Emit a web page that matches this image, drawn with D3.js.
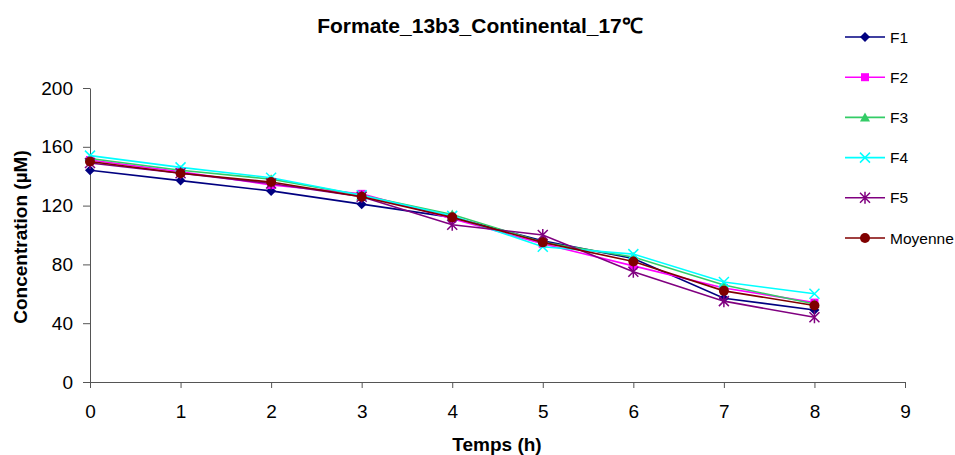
<!DOCTYPE html>
<html><head><meta charset="utf-8">
<script src="https://cdn.jsdelivr.net/npm/d3@7"></script>
<style>body{margin:0;background:#fff}svg{font-family:"Liberation Sans",Arial,sans-serif}</style>
</head><body>
<script>
const hours = [0,1,2,3,4,5,6,7,8];
const F1 = [144,137,130,121,112,96,84,57,49];
const F2 = [151,143,134,128,111,94,79,64,54];
const F3 = [152,144,138,127,114,95,85,66,53];
const F4 = [154,146,139,127,113,92,87,68,60];
const F5 = [149,142,135,126,107,100,75,55,44];
const Moyenne = [150,142,136,126,112,95,82,62,52];
const seriesNames = ["F1","F2","F3","F4","F5","Moyenne"];
const seriesValues = [F1,F2,F3,F4,F5,Moyenne];
const colors = ["#000080","#FF00FF","#33CC66","#00FFFF","#800080","#800000"];
const xTicks = [0,1,2,3,4,5,6,7,8,9];
const yTicks = [0,40,80,120,160,200];

const W=955,H=455;
const svg=d3.select("body").append("svg").attr("width",W).attr("height",H);
const x=d3.scaleLinear().domain([0,9]).range([90,905]);
const y=d3.scaleLinear().domain([0,200]).range([382,88]);

svg.append("g").attr("transform","translate(0,382)")
  .call(d3.axisBottom(x).tickValues(xTicks).tickSize(6).tickSizeOuter(0).tickPadding(17))
  .call(g=>g.selectAll("text").attr("font-size",19).attr("fill","#000").attr("font-family","Liberation Sans, Arial"))
  .call(g=>g.selectAll("line,path").attr("stroke","#555"));
svg.append("g").attr("transform","translate(90,0)")
  .call(d3.axisLeft(y).tickValues(yTicks).tickSize(7).tickSizeOuter(0).tickPadding(10))
  .call(g=>g.selectAll("text").attr("font-size",19).attr("fill","#000").attr("font-family","Liberation Sans, Arial"))
  .call(g=>g.selectAll("line,path").attr("stroke","#555"));

function marker(g,i,cx,cy,c){
  const s=g.append("g").attr("transform",`translate(${cx},${cy})`);
  if(i===0) s.append("path").attr("d","M0,-5L5,0L0,5L-5,0Z").attr("fill",c);
  else if(i===1) s.append("rect").attr("x",-4).attr("y",-4).attr("width",8).attr("height",8).attr("fill",c);
  else if(i===2) s.append("path").attr("d","M0,-5L5,4L-5,4Z").attr("fill",c);
  else if(i===3) s.append("path").attr("d","M-5,-5L5,5M-5,5L5,-5").attr("stroke",c).attr("stroke-width",1.5);
  else if(i===4) s.append("path").attr("d","M-5,-5L5,5M-5,5L5,-5M0,-6L0,6").attr("stroke",c).attr("stroke-width",1.5);
  else s.append("circle").attr("r",5).attr("fill",c);
}

const line=d3.line().x((d,i)=>x(hours[i])).y(d=>y(d));
seriesValues.forEach((vals,i)=>{
  const g=svg.append("g");
  g.append("path").attr("d",line(vals)).attr("fill","none").attr("stroke",colors[i]).attr("stroke-width",1.6);
  vals.forEach((v,j)=>marker(g,i,x(hours[j]),y(v),colors[i]));
});

// legend
seriesNames.forEach((n,i)=>{
  const ly=37+i*40.2;
  const g=svg.append("g");
  g.append("line").attr("x1",845).attr("x2",885).attr("y1",ly).attr("y2",ly).attr("stroke",colors[i]).attr("stroke-width",1.6);
  marker(g,i,865,ly,colors[i]);
  g.append("text").attr("x",890).attr("y",ly+5.5).attr("font-size",15.5).text(n);
});

svg.append("text").attr("x",480).attr("y",33).attr("text-anchor","middle").attr("font-size",21).attr("font-weight","bold").text("Formate_13b3_Continental_17℃");
svg.append("text").attr("x",497).attr("y",451).attr("text-anchor","middle").attr("font-size",19).attr("font-weight","bold").text("Temps (h)");
svg.append("text").attr("transform","translate(27,237) rotate(-90)").attr("text-anchor","middle").attr("font-size",19).attr("font-weight","bold").text("Concentration (µM)");
</script>
</body></html>
